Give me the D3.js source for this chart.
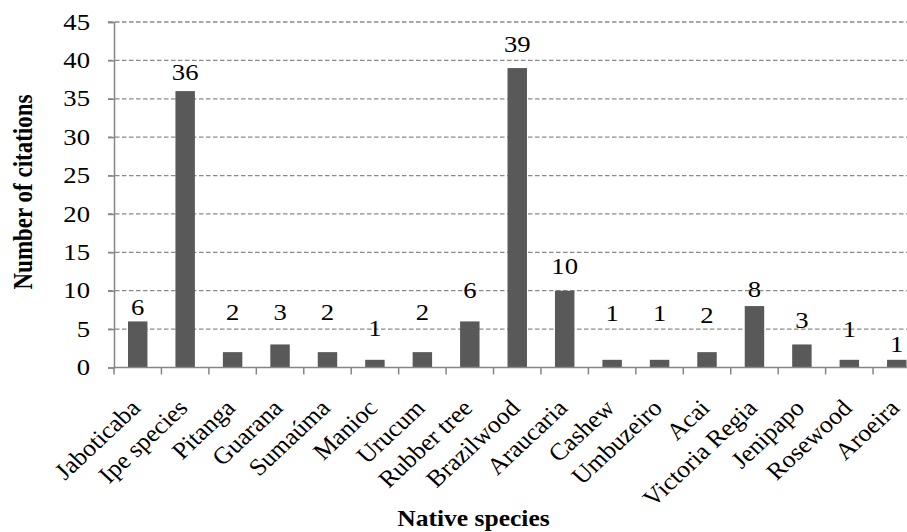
<!DOCTYPE html>
<html><head><meta charset="utf-8">
<script src="https://cdn.jsdelivr.net/npm/d3@7"></script>
<style>body{margin:0;background:#fff;}svg{display:block;}svg text{font-family:"Liberation Serif","Times New Roman",serif;}</style>
</head><body>
<svg id="c" width="907" height="532"></svg>
<script>
const categories = ["Jaboticaba","Ipe species","Pitanga","Guarana","Sumaúma","Manioc","Urucum","Rubber tree","Brazilwood","Araucaria","Cashew","Umbuzeiro","Acai","Victoria Regia","Jenipapo","Rosewood","Aroeira"];
const values = [6,36,2,3,2,1,2,6,39,10,1,1,2,8,3,1,1];
const yTicks = [0,5,10,15,20,25,30,35,40,45];

(function(){
const svg = d3.select("#c");
const FONT = "'Liberation Serif','Times New Roman',serif";
const SX = 1.16;           // horizontal stretch of the reference's text
const FS = 23;
// manual label gaps (px) between bar top and label baseline, as placed in the reference
const labelGap = [6,11,32,24.5,32,24,32,23,16,17,39,39,29,9,16.5,23,8];

const mLeft = 114, mRight = 920.5, mTop = 22, mBottom = 367.5;
const x = d3.scaleBand().domain(categories).range([mLeft, mRight]).paddingInner(0.59).paddingOuter(0.295);
const y = d3.scaleLinear().domain([0,45]).range([mBottom, mTop]);
const axisColor = "#868686";

// gridlines
svg.append("g").selectAll("line").data(yTicks.filter(d=>d>0)).join("line")
  .attr("x1", mLeft-6).attr("x2", 907).attr("y1", d=>y(d)).attr("y2", d=>y(d))
  .attr("stroke", "#8a8a8a").attr("stroke-width", 1.3).attr("stroke-dasharray", "4.5,2.5");

// y axis
const ya = svg.append("g").attr("transform", `translate(${mLeft},0)`)
  .call(d3.axisLeft(y).tickValues(yTicks).tickSize(6).tickFormat(""));
ya.select(".domain").attr("stroke", axisColor).attr("stroke-width", 1.5);
ya.selectAll(".tick line").attr("stroke", axisColor).attr("stroke-width", 1.5);
svg.append("g").selectAll("text").data(yTicks).join("text")
  .attr("transform", d=>`translate(${mLeft-24},${y(d)}) scale(${SX},1)`)
  .attr("dy","0.33em").attr("text-anchor","end").attr("font-family",FONT)
  .attr("font-size", FS).attr("fill","#000").text(d=>d);

// bars
svg.append("g").selectAll("rect").data(values).join("rect")
  .attr("x", (d,i)=>x(categories[i])).attr("width", x.bandwidth())
  .attr("y", d=>y(d)).attr("height", d=>mBottom-y(d))
  .attr("fill", "#595959");

// x axis
const step = x.step();
const xa = svg.append("g").attr("transform", `translate(0,${mBottom})`);
xa.append("line").attr("x1", mLeft).attr("x2", 907).attr("stroke", axisColor).attr("stroke-width", 1.5);
xa.selectAll("line.t").data(d3.range(categories.length+1)).join("line").attr("class","t")
  .attr("x1", i=>mLeft+i*step).attr("x2", i=>mLeft+i*step).attr("y1",0).attr("y2",7)
  .attr("stroke", axisColor).attr("stroke-width", 1.5);
xa.selectAll("text").data(categories).join("text")
  .attr("transform", d=>`translate(${x(d)+x.bandwidth()/2+4},${42}) scale(1.07,1) rotate(-45)`)
  .attr("text-anchor","end").attr("font-family",FONT).attr("font-size", 24).attr("fill","#000").text(d=>d);

// value labels
svg.append("g").selectAll("text").data(values).join("text")
  .attr("transform", (d,i)=>`translate(${x(categories[i])+x.bandwidth()/2},${y(d)-labelGap[i]}) scale(${SX},1)`)
  .attr("text-anchor","middle").attr("font-family",FONT).attr("font-size", FS).attr("fill","#000").text(d=>d);

// axis titles
svg.append("text").attr("transform","translate(473.5,526) scale(1.11,1)").attr("text-anchor","middle")
  .attr("font-family",FONT).attr("font-size", FS).attr("font-weight","bold").text("Native species");
svg.append("text").attr("transform","translate(32,192) scale(1.2,1) rotate(-90)").attr("text-anchor","middle")
  .attr("font-family",FONT).attr("font-size", FS).attr("font-weight","bold").text("Number of citations");
})();
</script>
</body></html>
